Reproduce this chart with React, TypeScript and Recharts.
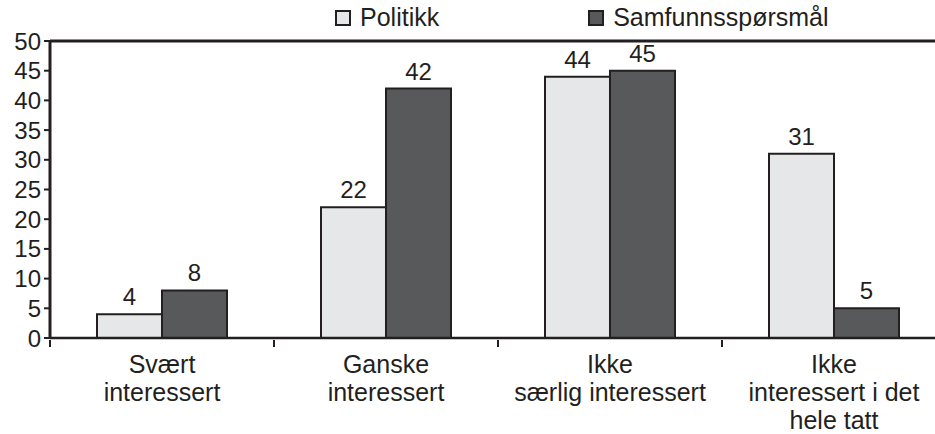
import { BarChart, Bar, XAxis, YAxis, ReferenceLine, LabelList } from "recharts";

const categories = [
  "Svært\ninteressert",
  "Ganske\ninteressert",
  "Ikke\nsærlig interessert",
  "Ikke\ninteressert i det\nhele tatt",
];
const politikk = [4, 22, 44, 31];
const samfunn = [8, 42, 45, 5];
const yTicks = [0, 5, 10, 15, 20, 25, 30, 35, 40, 45, 50];
const seriesNames = ["Politikk", "Samfunnsspørsmål"];

const data = categories.map((name, i) => ({
  name,
  politikk: politikk[i],
  samfunn: samfunn[i],
}));

const INK = "#231f20";
const LIGHT = "#e6e7e8";
const DARK = "#58595b";
const FONT = "'Liberation Sans', Arial, Helvetica, sans-serif";
const BAND = 224;

function CategoryTick(props: any) {
  const { x, y, payload } = props;
  const lines = String(payload.value).split("\n");
  return (
    <g>
      <line
        x1={x - BAND / 2}
        x2={x - BAND / 2}
        y1={y - 8}
        y2={y - 1}
        stroke={INK}
        strokeWidth={2}
      />
      <text textAnchor="middle" fill={INK} fontSize={25} fontFamily={FONT}>
        {lines.map((l, i) => (
          <tspan key={i} x={x} y={y + 25 + i * 28}>
            {l}
          </tspan>
        ))}
      </text>
    </g>
  );
}

export default function App() {
  return (
    <div
      style={{
        position: "absolute",
        left: 0,
        top: 0,
        width: 935,
        height: 434,
        overflow: "hidden",
        background: "#fff",
        fontFamily: FONT,
      }}
    >
      <BarChart
        width={946}
        height={434}
        data={data}
        margin={{ top: 41, right: 0, left: 0, bottom: 6 }}
        barCategoryGap={47}
        barGap={0}
      >
        <ReferenceLine y={50} stroke={INK} strokeWidth={3} />
        <XAxis
          dataKey="name"
          interval={0}
          height={90}
          tickSize={8}
          tickLine={false}
          axisLine={{ stroke: INK, strokeWidth: 2.5 }}
          tick={<CategoryTick />}
        />
        <YAxis
          domain={[0, 50]}
          ticks={yTicks}
          width={50}
          tickSize={6}
          tickMargin={3}
          interval={0}
          axisLine={{ stroke: INK, strokeWidth: 3 }}
          tickLine={{ stroke: INK, strokeWidth: 2 }}
          tick={{ fill: INK, fontSize: 24, fontFamily: FONT }}
        />
        <Bar dataKey="politikk" fill={LIGHT} stroke={INK} strokeWidth={2} isAnimationActive={false}>
          <LabelList dataKey="politikk" position="top" offset={9} fill={INK} fontSize={24} fontFamily={FONT} />
        </Bar>
        <Bar dataKey="samfunn" fill={DARK} stroke={INK} strokeWidth={2} isAnimationActive={false}>
          <LabelList dataKey="samfunn" position="top" offset={9} fill={INK} fontSize={24} fontFamily={FONT} />
        </Bar>
      </BarChart>
      <div
        style={{
          position: "absolute",
          top: 3,
          left: 335,
          display: "flex",
          fontSize: 25,
          color: INK,
          lineHeight: "29px",
        }}
      >
        {seriesNames.map((n, i) => (
          <div key={n} style={{ display: "flex", alignItems: "center", marginRight: i === 0 ? 149 : 0 }}>
            <span
              style={{
                display: "inline-block",
                width: 12,
                height: 12,
                border: `2px solid ${INK}`,
                background: i === 0 ? LIGHT : DARK,
                marginRight: 9,
              }}
            />
            {n}
          </div>
        ))}
      </div>
    </div>
  );
}
